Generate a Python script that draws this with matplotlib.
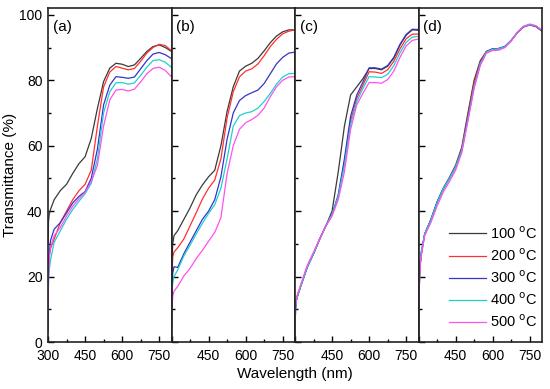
import matplotlib
matplotlib.use("Agg")
import matplotlib.pyplot as plt

plt.rcParams["font.family"] = ["Liberation Sans", "DejaVu Sans"]

# wavelength grid (nm)
wl = [300, 302, 305, 310, 325, 350, 375, 400, 425, 450, 475, 500,
      525, 550, 575, 600, 625, 650, 675, 700, 725, 750, 775, 800]

# panel (a)
a100 = [30, 37, 39, 40.5, 43.5, 46.3, 48.2, 51.5, 54.5, 56.6, 62.2, 71.4, 79.6, 83.7, 85.2, 84.9, 84.2, 84.7, 86.7, 88.8, 90.3, 90.8, 90, 88.8]
a200 = [20, 24, 26.5, 28.5, 31.5, 36.5, 40, 43.5, 46.2, 48.2, 52.5, 66, 78, 82.5, 84.2, 83.7, 83.2, 83.6, 85.8, 88.3, 90, 91, 90.6, 89]
a300 = [3, 21, 27, 31, 34.5, 36.5, 39.5, 42.5, 44.5, 46, 50, 59, 72.5, 78.5, 81.1, 80.9, 80.6, 81, 83.5, 86, 88, 88.5, 87.8, 86.6]
a400 = [10, 19, 22, 25, 30.5, 34, 37.5, 40.5, 43, 45.3, 48.5, 56, 70, 76.5, 79.2, 79.3, 78.8, 79.2, 81.5, 84, 86, 86.3, 85.5, 83.9]
a500 = [8, 20, 25, 29, 32.5, 35, 38.5, 41.5, 43.8, 45.8, 49, 54, 66, 74, 77, 77.2, 76.7, 77.3, 79.5, 82, 83.6, 84, 83, 81]

# panel (b)
b100 = [10, 25, 30, 32.5, 34, 37.5, 41, 45, 48, 50.5, 52.5, 60, 70.5, 78, 82.8, 84.3, 85.2, 86.7, 89, 91.5, 93.5, 94.8, 95.4, 95.4]
b200 = [8, 20, 26, 27.5, 28.8, 31.5, 35.5, 39.5, 43.7, 47, 49.5, 56, 68.5, 76.5, 81, 82.8, 83.5, 85, 87.5, 90.3, 92.5, 94.2, 95, 95.4]
b300 = [5, 17, 21, 23, 22.8, 27, 30.5, 34, 37.5, 40, 43.5, 50.5, 62, 70, 73.8, 75.3, 76.2, 77, 79, 82, 85, 87, 88.3, 88.6]
b400 = [5, 15, 18, 20, 22, 26.3, 29.6, 33, 36.3, 39.3, 42, 47, 56, 66, 69.2, 70, 70.4, 71.5, 73.5, 76, 78.8, 81, 82, 82.1]
b500 = [2, 10, 14, 15.5, 17, 20.2, 22.5, 25.5, 28, 30.8, 33.5, 38, 51.5, 60, 65, 67, 68, 69.3, 71.5, 75, 78, 80, 81, 81.1]

# panel (c)
c100 = [2, 10, 12.5, 14, 17.5, 23, 27, 31.5, 35.5, 40, 52, 66, 75.5, 78, 80.5, 83.6, 83.6, 83.2, 84.3, 86.8, 90.8, 93.8, 95.4, 95.3]
c200 = [2, 11, 13, 14.5, 17.5, 23, 27, 31.5, 35.5, 39, 44.5, 55, 67.5, 74.5, 78.5, 82.6, 82.5, 82.1, 83.2, 85.8, 89.6, 92.7, 94.1, 94.1]
c300 = [2, 10, 12.5, 14, 17.5, 23, 27, 31.5, 35.5, 39, 45, 56, 69, 75.5, 79.5, 83.8, 83.8, 83.4, 84.5, 87, 91, 94, 95.6, 95.5]
c400 = [2, 10, 12.5, 14, 17.5, 23, 27, 31.5, 35.5, 39, 44.5, 54, 66.5, 73.5, 77.5, 81.1, 81, 80.8, 81.8, 84.5, 88.4, 91.6, 93.2, 93.4]
c500 = [2, 11, 13, 14.5, 18, 23.5, 27.5, 31.5, 35.5, 38.5, 43.5, 52, 65, 72.5, 76, 79.3, 79.3, 79.1, 80.2, 82.8, 87, 90.5, 92.2, 92.6]

# panel (d)
d100 = [2, 14, 22, 26.5, 33, 37.5, 42.8, 47, 50.3, 54, 59.5, 70, 80, 86, 88.8, 89.6, 89.7, 90.3, 92.1, 94.5, 96.3, 96.9, 96.4, 95]
d200 = [2, 14, 22, 26, 33, 37.3, 42.5, 46.8, 50, 53.5, 59, 69, 79, 85.5, 88.8, 89.6, 89.6, 90.3, 92.1, 94.5, 96.3, 97, 96.5, 95.1]
d300 = [2, 14, 22, 27, 33, 37.3, 42.7, 46.8, 50, 53.5, 58.5, 68.4, 78, 85, 88.7, 89.6, 89.7, 90.4, 92.2, 94.6, 96.4, 97, 96.5, 95.1]
d400 = [2, 14, 22, 27, 33, 37.3, 42.5, 46.8, 50, 53.5, 58.5, 68, 78, 85, 88.6, 89.5, 89.6, 90.3, 92.2, 94.6, 96.4, 97, 96.6, 95.2]
d500 = [2, 13, 21, 26, 32.5, 36.5, 41.5, 45.8, 49, 52.5, 57.8, 67.5, 77.5, 84.5, 88.3, 89.1, 89.2, 90, 92, 94.5, 96.5, 97.2, 96.7, 95.3]

labels = ["100 $^{\\rm o}$C", "200 $^{\\rm o}$C", "300 $^{\\rm o}$C",
          "400 $^{\\rm o}$C", "500 $^{\\rm o}$C"]
colors = ["#3a3a3a", "#ff3030", "#3434c8", "#20d0d0", "#ff50f0"]
panels = [("(a)", [a100, a200, a300, a400, a500]),
          ("(b)", [b100, b200, b300, b400, b500]),
          ("(c)", [c100, c200, c300, c400, c500]),
          ("(d)", [d100, d200, d300, d400, d500])]

fig, axes = plt.subplots(1, 4, sharey=True, figsize=(5.5, 3.89), dpi=100)
fig.subplots_adjust(left=0.0873, right=0.9855, bottom=0.1208, top=0.9787, wspace=0)

for i, (ax, (tag, series)) in enumerate(zip(axes, panels)):
    for ys, c, lab in zip(series, colors, labels):
        ax.plot(wl, ys, color=c, lw=0.9, label=lab)
    ax.set_xlim(300, 800)
    ax.set_ylim(0, 102)
    ax.set_xticks([300, 450, 600, 750])
    ax.set_xticks([375, 525, 675], minor=True)
    if i == 0:
        ax.set_xticklabels(["300", "450", "600", "750"])
    else:
        ax.set_xticklabels(["", "450", "600", "750"])
    ax.set_yticks([0, 20, 40, 60, 80, 100])
    ax.set_yticks([10, 30, 50, 70, 90], minor=True)
    ax.tick_params(which="both", direction="in", labelsize=10)
    ax.tick_params(axis="x", pad=5)
    ax.tick_params(axis="y", pad=4)
    ax.tick_params(which="major", length=4, width=1)
    ax.tick_params(which="minor", length=2.5, width=1)
    ax.tick_params(axis="y", left=True, labelleft=(i == 0))
    for s in ax.spines.values():
        s.set_linewidth(1.2)
        s.set_color("#222222")
    ax.text(0.04, 0.965, tag, transform=ax.transAxes, fontsize=11,
            ha="left", va="top")

axes[0].set_ylabel("Transmittance (%)", fontsize=11)
axes[0].yaxis.set_label_coords(-0.25, 0.5)
axes[3].legend(loc="lower right", frameon=False, fontsize=10.5,
               handlelength=2.5, handletextpad=0.3, labelspacing=0.38,
               borderaxespad=0, bbox_to_anchor=(1.01, 0.018))
fig.text(0.536, 0.038, "Wavelength (nm)", ha="center", va="center", fontsize=11)

fig.savefig("out.png", dpi=100)
